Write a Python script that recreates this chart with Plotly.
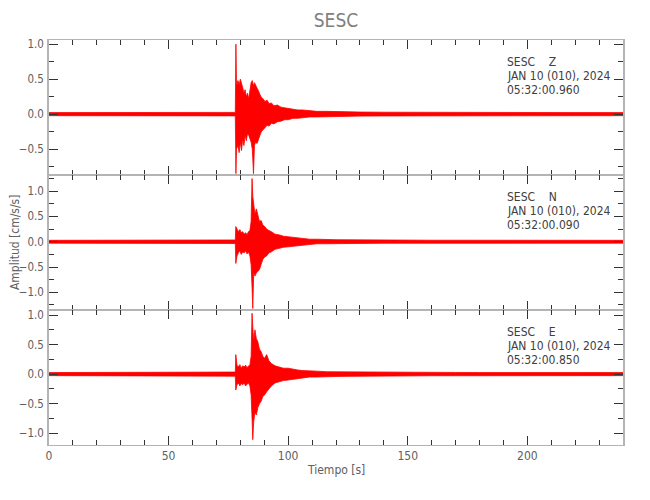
import plotly.graph_objects as go
from plotly.subplots import make_subplots

station = "SESC"
components = ["Z", "N", "E"]
date_label = "JAN 10 (010), 2024"
start_times = ["05:32:00.960", "05:32:00.090", "05:32:00.850"]
x_title = "Tiempo [s]"
y_title = "Amplitud [cm/s/s]"
x_ticks = [0, 50, 100, 150, 200]
y_ranges = [[-0.87, 1.06], [-1.35, 1.32], [-1.20, 1.085]]

# ---- Z component: envelope (upper / lower) ----
z_t = [0, 10, 20, 30, 40, 50, 60, 70, 77.9,
       78.15, 78.4, 79.0, 79.5, 80.0, 80.5, 81.0, 81.5, 82.0, 82.5, 83.0, 83.5,
       84.0, 84.5, 85.0, 85.5, 85.9, 86.4, 87.0, 87.6, 88.2, 88.8, 89.5, 90.3,
       91.2, 92.0, 93.0, 94.0, 95.5, 97.0, 98.5, 100, 102, 104, 106, 109, 112,
       116, 120,
       125, 130, 140, 150, 160, 170, 180, 190, 200, 210, 220, 230, 240]
z_hi = [0.022, 0.022, 0.022, 0.022, 0.022, 0.022, 0.022, 0.022, 0.025,
        1.00, 0.40, 0.48, 0.42, 0.50, 0.45, 0.38, 0.30, 0.35, 0.25, 0.30, 0.22,
        0.35, 0.45, 0.48, 0.40, 0.45, 0.42, 0.38, 0.33, 0.28, 0.24, 0.22, 0.18,
        0.20, 0.15, 0.16, 0.12, 0.13, 0.10, 0.09, 0.08, 0.07, 0.06, 0.06, 0.05,
        0.04, 0.04, 0.035,
        0.033, 0.03, 0.028, 0.026, 0.025, 0.024, 0.024, 0.023, 0.023, 0.022,
        0.022, 0.022, 0.022]
z_lo = [-0.022, -0.022, -0.022, -0.022, -0.022, -0.022, -0.022, -0.022, -0.025,
        -0.85, -0.50, -0.45, -0.55, -0.40, -0.52, -0.35, -0.45, -0.30, -0.38,
        -0.28, -0.30, -0.35, -0.40, -0.50, -0.85, -0.45, -0.40, -0.42, -0.35,
        -0.30, -0.25, -0.22, -0.20, -0.16, -0.17, -0.13, -0.14, -0.11, -0.10,
        -0.08, -0.08, -0.06, -0.06, -0.05, -0.04, -0.04, -0.035, -0.03,
        -0.03, -0.028, -0.026, -0.025, -0.024, -0.024, -0.023, -0.023, -0.022,
        -0.022, -0.022, -0.022, -0.022]

# ---- N component ----
n_t = [0, 10, 20, 30, 40, 50, 60, 70, 77.9,
       78.1, 78.6, 79.2, 79.8, 80.4, 81.0, 81.6, 82.2, 82.8, 83.4, 84.0, 84.5,
       84.9, 85.2, 85.6, 86.1, 86.7, 87.3, 88.0, 88.7, 89.4, 90.2, 91.0, 92.0,
       93.0, 94.5, 96, 98, 100, 102, 104, 106, 109, 112, 116, 120,
       125, 130, 140, 150, 160, 170, 180, 190, 200, 210, 220, 230, 240]
n_hi = [0.028, 0.028, 0.028, 0.028, 0.028, 0.028, 0.028, 0.028, 0.035,
        0.30, 0.25, 0.20, 0.24, 0.18, 0.20, 0.15, 0.18, 0.14, 0.20, 0.22, 0.40,
        1.25, 0.90, 0.70, 0.55, 0.65, 0.50, 0.40, 0.42, 0.33, 0.30, 0.25, 0.22,
        0.20, 0.15, 0.14, 0.11, 0.10, 0.08, 0.07, 0.06, 0.05, 0.05, 0.04, 0.04,
        0.038, 0.035, 0.032, 0.03, 0.03, 0.03, 0.028, 0.028, 0.028, 0.028,
        0.028, 0.028, 0.028]
n_lo = [-0.028, -0.028, -0.028, -0.028, -0.028, -0.028, -0.028, -0.028, -0.035,
        -0.43, -0.28, -0.22, -0.18, -0.25, -0.20, -0.22, -0.18, -0.24, -0.20,
        -0.28, -0.45, -0.90, -1.32, -0.60, -0.68, -0.62, -0.58, -0.55, -0.45,
        -0.35, -0.30, -0.28, -0.22, -0.20, -0.15, -0.13, -0.11, -0.10, -0.09,
        -0.07, -0.06, -0.05, -0.04, -0.04, -0.035,
        -0.035, -0.033, -0.03, -0.03, -0.03, -0.03, -0.028, -0.028, -0.028,
        -0.028, -0.028, -0.028, -0.028]

# ---- E component ----
e_t = [0, 10, 20, 30, 40, 50, 60, 70, 77.9,
       78.1, 78.6, 79.2, 79.8, 80.4, 81.0, 81.6, 82.2, 82.8, 83.4, 84.0, 84.5,
       84.9, 85.2, 85.6, 86.1, 86.7, 87.3, 88.0, 88.7, 89.4, 90.2, 91.0, 92.0,
       93.0, 94.5, 96, 98, 100, 102, 104, 106, 109, 112, 116, 120,
       125, 130, 140, 150, 160, 170, 180, 190, 200, 210, 220, 230, 240]
e_hi = [0.026, 0.026, 0.026, 0.026, 0.026, 0.026, 0.026, 0.026, 0.035,
        0.33, 0.15, 0.12, 0.16, 0.10, 0.14, 0.12, 0.15, 0.11, 0.13, 0.16, 0.30,
        1.03, 0.80, 0.55, 0.75, 0.60, 0.55, 0.42, 0.38, 0.30, 0.27, 0.33, 0.22,
        0.18, 0.14, 0.12, 0.10, 0.10, 0.08, 0.07, 0.06, 0.05, 0.05, 0.04, 0.04,
        0.038, 0.035, 0.032, 0.03, 0.028, 0.028, 0.026, 0.026, 0.026, 0.026,
        0.026, 0.026, 0.026]
e_lo = [-0.026, -0.026, -0.026, -0.026, -0.026, -0.026, -0.026, -0.026, -0.035,
        -0.27, -0.18, -0.15, -0.20, -0.16, -0.18, -0.15, -0.20, -0.17, -0.15,
        -0.20, -0.35, -0.75, -1.11, -0.80, -0.65, -0.69, -0.57, -0.50, -0.46,
        -0.38, -0.35, -0.30, -0.25, -0.20, -0.15, -0.13, -0.11, -0.10, -0.09,
        -0.07, -0.06, -0.05, -0.05, -0.04, -0.04,
        -0.038, -0.035, -0.032, -0.03, -0.028, -0.028, -0.026, -0.026, -0.026,
        -0.026, -0.026, -0.026, -0.026]

traces = [(z_t, z_hi, z_lo), (n_t, n_hi, n_lo), (e_t, e_hi, e_lo)]
for t, hi, lo in traces:
    assert len(t) == len(hi) == len(lo), (len(t), len(hi), len(lo))

FONT = "Liberation Sans Narrow, Arial Narrow, DejaVu Sans Condensed, sans-serif"
RED = "#ff0000"
AXIS_GRAY = "#b4b4b4"
TICK_COLOR = "#333333"

fig = make_subplots(rows=3, cols=1, shared_xaxes=True, vertical_spacing=0)

for i, (t, hi, lo) in enumerate(traces, start=1):
    fig.add_trace(go.Scatter(x=t, y=hi, mode="lines",
                             line=dict(color=RED, width=0.8),
                             showlegend=False, hoverinfo="skip"), row=i, col=1)
    fig.add_trace(go.Scatter(x=t, y=lo, mode="lines",
                             line=dict(color=RED, width=0.8),
                             fill="tonexty", fillcolor=RED,
                             showlegend=False, hoverinfo="skip"), row=i, col=1)

    fig.update_xaxes(row=i, col=1, range=[0, 240], tickvals=x_ticks,
                     showticklabels=(i == 3), automargin=False,
                     ticks="inside", ticklen=9, tickwidth=1, tickcolor=TICK_COLOR,
                     minor=dict(dtick=10, tick0=0, ticks="inside", ticklen=5,
                                tickwidth=1, tickcolor=TICK_COLOR),
                     showline=True, linewidth=1, linecolor=AXIS_GRAY,
                     mirror="ticks", showgrid=False, zeroline=False,
                     tickfont=dict(family=FONT, size=12, color="#606060"))
    fig.update_yaxes(row=i, col=1, range=y_ranges[i - 1], dtick=0.5, tick0=0,
                     tickformat=".1f", automargin=False,
                     ticks="inside", ticklen=9, tickwidth=1, tickcolor=TICK_COLOR,
                     minor=dict(dtick=0.25, tick0=0, ticks="inside", ticklen=5,
                                tickwidth=1, tickcolor=TICK_COLOR),
                     showline=True, linewidth=1.5, linecolor=AXIS_GRAY,
                     mirror="ticks", showgrid=False, zeroline=False,
                     ticklabelstandoff=1,
                     tickfont=dict(family=FONT, size=11.5, color="#606060"))

    yref = "y domain" if i == 1 else f"y{i} domain"
    xref = "x" if i == 1 else f"x{i}"
    lines = [f"{station}\u00a0\u00a0\u00a0\u00a0{components[i - 1]}", date_label,
             start_times[i - 1]]
    for k, txt in enumerate(lines):
        fig.add_annotation(x=190.8, xref=xref, xanchor="left",
                           y=1, yref=yref, yanchor="middle",
                           yshift=-21.5 - 14.2 * k, text=txt, showarrow=False,
                           font=dict(family=FONT, size=12, color="#404040"))

fig.add_annotation(x=-0.06, xref="paper", y=0.5, yref="paper",
                   xanchor="center", yanchor="middle", textangle=-90,
                   text=y_title, showarrow=False,
                   font=dict(family=FONT, size=12, color="#606060"))
fig.add_annotation(x=0.5, xref="paper", y=-0.062, yref="paper",
                   xanchor="center", yanchor="middle",
                   text=x_title, showarrow=False,
                   font=dict(family=FONT, size=12, color="#606060"))

# page body adds an 8 px offset; margins compensate so the plot area lands
# at x 49..623, y 40..445 in the 650x500 window
fig.update_layout(
    width=650, height=500,
    margin=dict(l=41, r=35, t=32, b=63),
    paper_bgcolor="white", plot_bgcolor="white",
    title=dict(text=station, x=0.5, xref="paper", xanchor="center",
               y=1 - 12 / 500, yref="container", yanchor="middle",
               font=dict(family=FONT, size=19, color="#808080")),
)

fig.write_html("out.html")
